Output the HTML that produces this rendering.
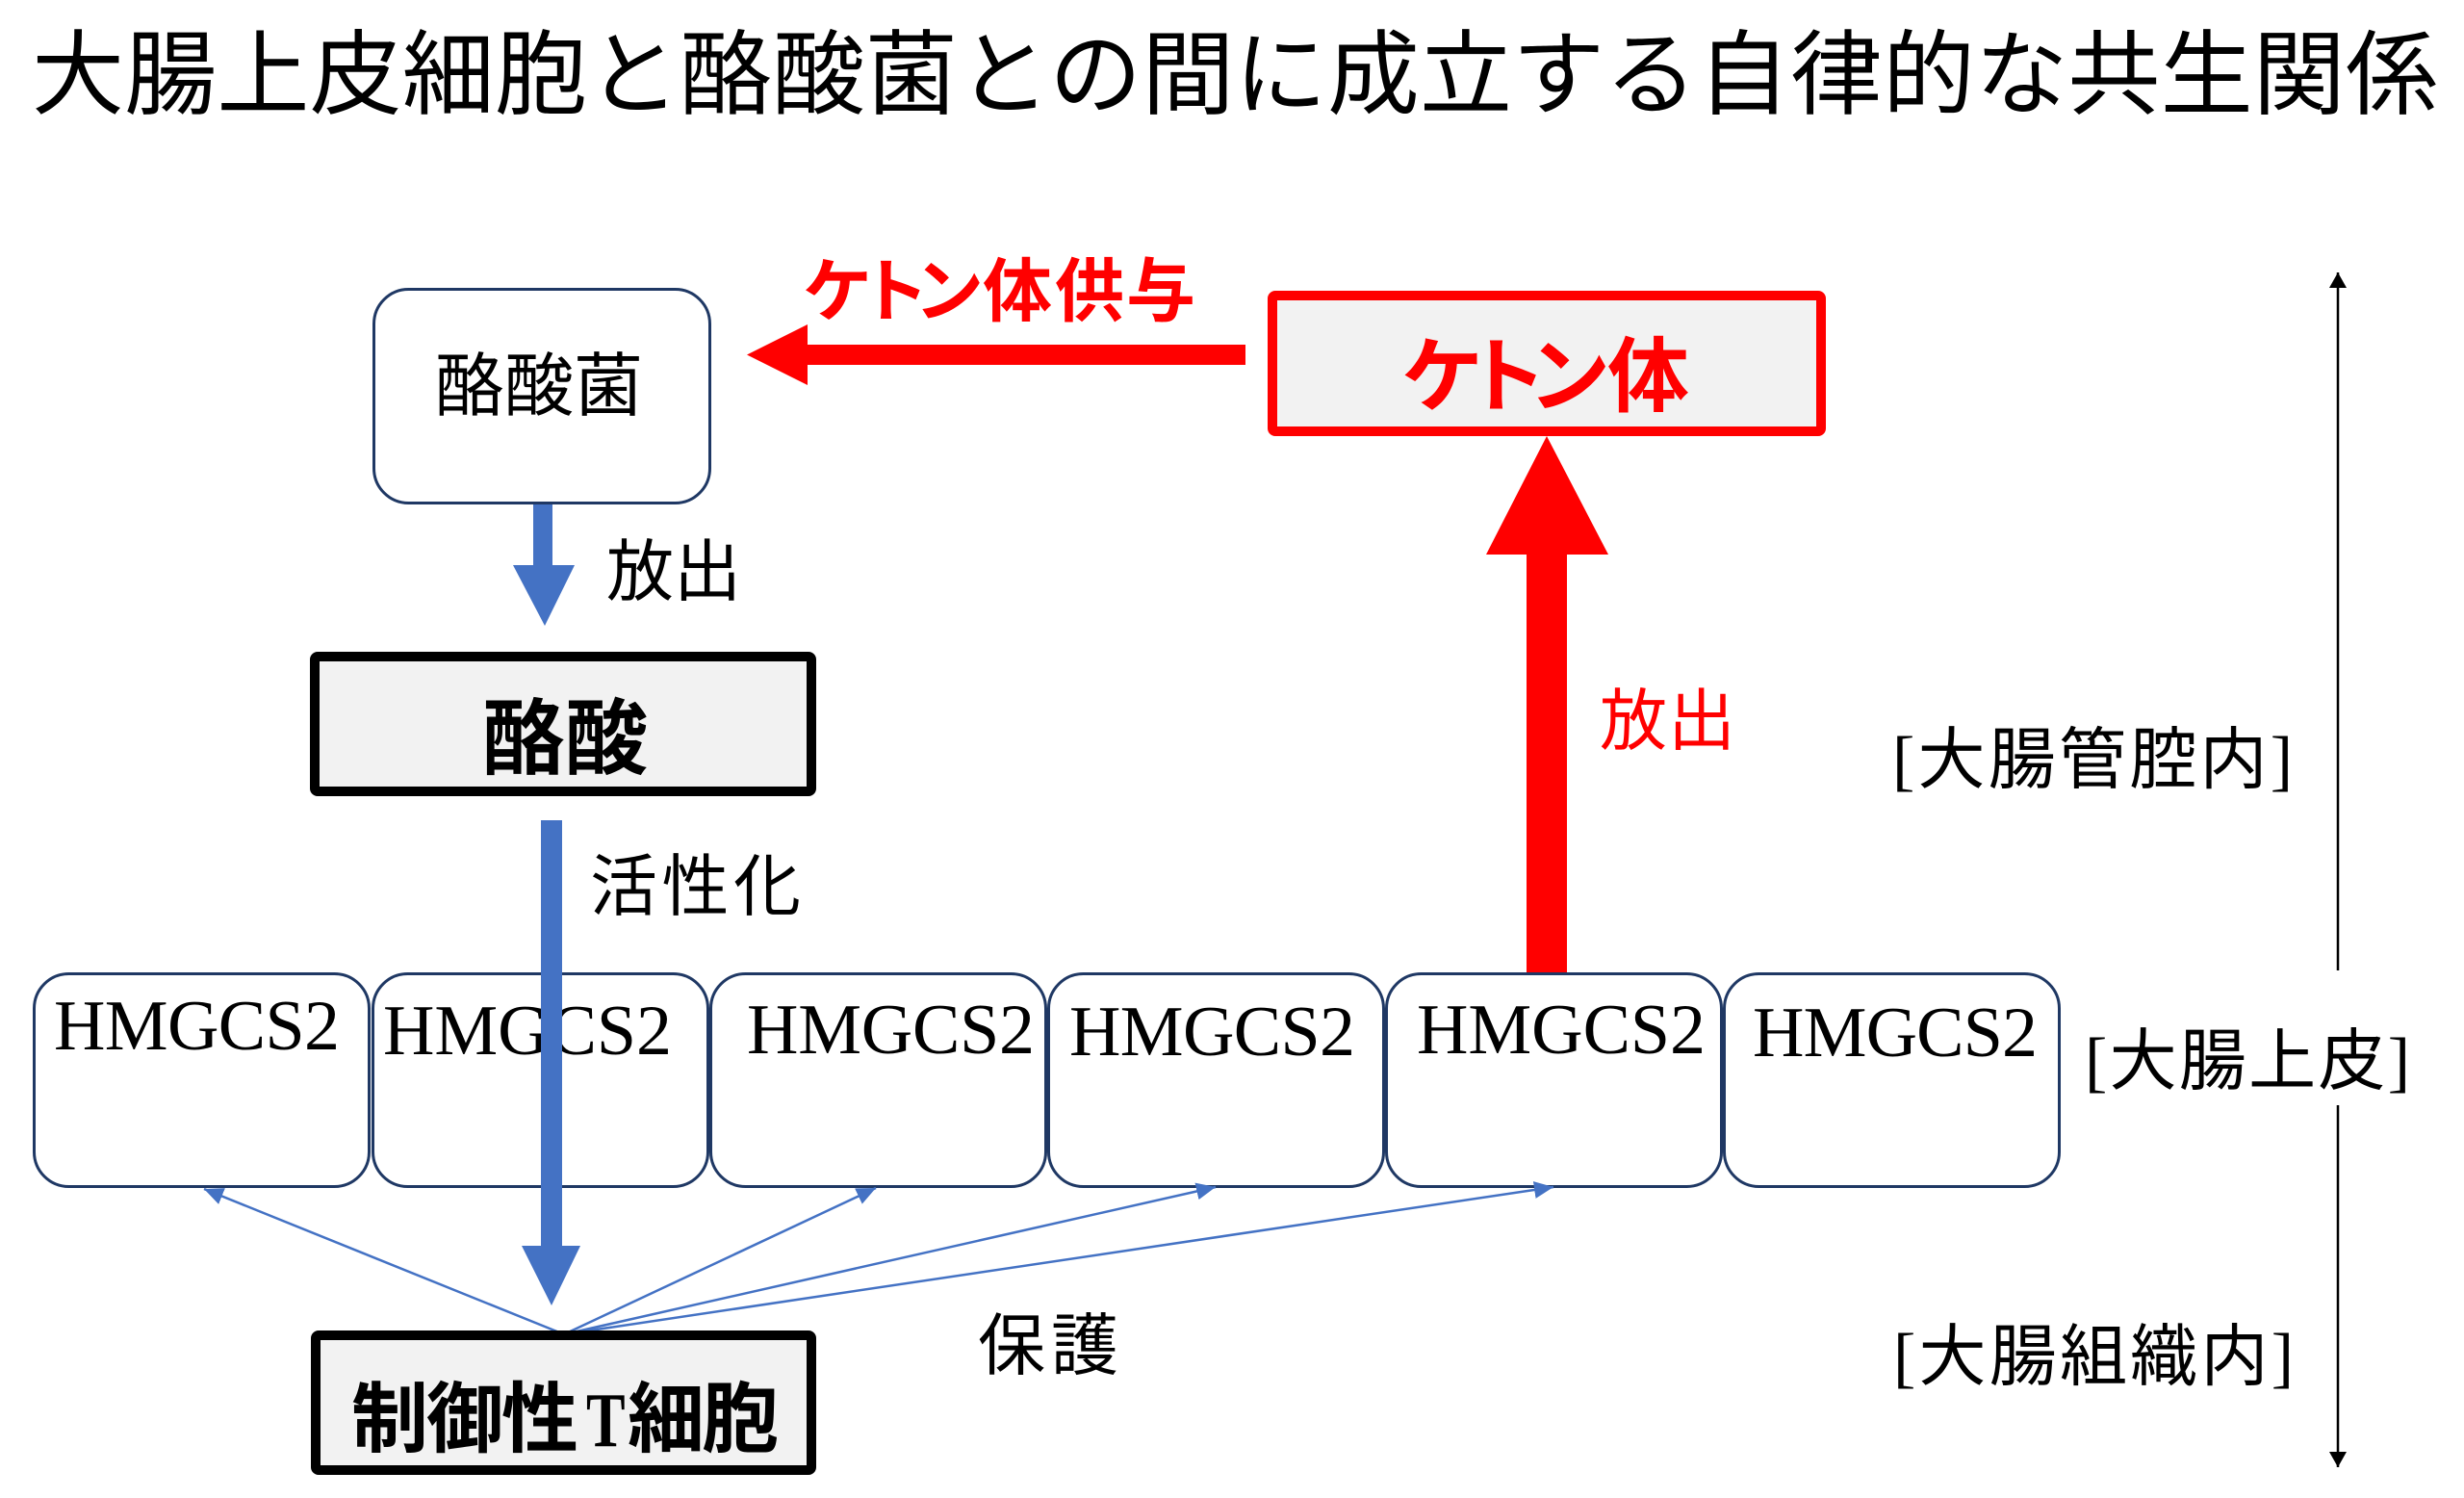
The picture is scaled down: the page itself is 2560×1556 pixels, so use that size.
<!DOCTYPE html>
<html>
<head>
<meta charset="utf-8">
<style>
html,body{margin:0;padding:0;background:#fff;}
body{width:2560px;height:1556px;overflow:hidden;position:relative;}
svg{position:absolute;left:0;top:0;}
.jp{font-family:"Liberation Sans","Noto Sans CJK JP",sans-serif;}
.sj{font-family:"Liberation Serif","Noto Sans CJK JP",serif;}
</style>
</head>
<body>
<svg width="2560" height="1556" viewBox="0 0 2560 1556" xmlns="http://www.w3.org/2000/svg">
  <defs>
    <marker id="bh" markerUnits="userSpaceOnUse" markerWidth="20" markerHeight="20" viewBox="0 0 20 20" refX="20" refY="10" orient="auto">
      <path d="M0,1 L20,10 L0,19 z" fill="#4472c4"/>
    </marker>
    <marker id="kh" markerUnits="userSpaceOnUse" markerWidth="18" markerHeight="18" viewBox="0 0 18 18" refX="16" refY="9" orient="auto">
      <path d="M0,0 L16,9 L0,18 z" fill="#000"/>
    </marker>
  </defs>

  <!-- Title -->
  <text class="jp" x="33" y="111" font-size="96" textLength="2500" lengthAdjust="spacing" fill="#000">大腸上皮細胞と酪酸菌との間に成立する自律的な共生関係</text>

  <!-- 酪酸菌 box -->
  <rect x="388.5" y="300.5" width="349" height="222" rx="36" ry="36" fill="#fff" stroke="#1f3864" stroke-width="3"/>
  <text class="jp" x="452" y="426" font-size="72" textLength="216" lengthAdjust="spacing" fill="#000">酪酸菌</text>

  <!-- red left arrow (ketone supply) -->
  <polygon points="1294,358 839,358 839,337 776,368.5 839,400 839,379 1294,379" fill="#ff0000"/>
  <text class="jp" y="328" font-size="72" font-weight="bold" fill="#ff0000" x="834 893 950 1021 1096 1170">ケトン体供与</text>

  <!-- ketone box -->
  <rect x="1322" y="307" width="570" height="141" rx="3" ry="3" fill="#f2f2f2" stroke="#ff0000" stroke-width="10"/>
  <text class="jp" y="421" font-size="85" font-weight="bold" fill="#ff0000" x="1456 1522 1588 1670">ケトン体</text>

  <!-- blue arrow 1 -->
  <polygon points="554,524 574,524 574,587 597,587 566,650 533,587 554,587" fill="#4472c4"/>
  <text class="jp" x="630" y="618" font-size="70" textLength="140" lengthAdjust="spacing" fill="#000">放出</text>

  <!-- 酪酸 box -->
  <rect x="327" y="682" width="516" height="140" rx="3" ry="3" fill="#f2f2f2" stroke="#000" stroke-width="10"/>
  <text class="jp" x="501" y="797" font-size="86" font-weight="bold" textLength="172" lengthAdjust="spacing" fill="#000">酪酸</text>

  <text class="jp" x="613" y="945" font-size="70" textLength="219" lengthAdjust="spacing" fill="#000">活性化</text>

  <!-- HMGCS2 boxes -->
  <g fill="#fff" stroke="#1f3864" stroke-width="3">
    <rect x="35.5" y="1011.5" width="348" height="221" rx="36" ry="36"/>
    <rect x="387.5" y="1011.5" width="348" height="221" rx="36" ry="36"/>
    <rect x="738.5" y="1011.5" width="348" height="221" rx="36" ry="36"/>
    <rect x="1089.5" y="1011.5" width="348" height="221" rx="36" ry="36"/>
    <rect x="1440.5" y="1011.5" width="348" height="221" rx="36" ry="36"/>
    <rect x="1791.5" y="1011.5" width="348" height="221" rx="36" ry="36"/>
  </g>
  <g class="sj" font-size="74" fill="#000">
    <text x="56" y="1090" textLength="297" lengthAdjust="spacing">HMGCS2</text>
    <text x="398" y="1095" textLength="300" lengthAdjust="spacing">HMGCS2</text>
    <text x="776" y="1094" textLength="299" lengthAdjust="spacing">HMGCS2</text>
    <text x="1111" y="1096" textLength="297" lengthAdjust="spacing">HMGCS2</text>
    <text x="1472" y="1094" textLength="300" lengthAdjust="spacing">HMGCS2</text>
    <text x="1821" y="1097" textLength="296" lengthAdjust="spacing">HMGCS2</text>
  </g>

  <!-- big red up arrow -->
  <polygon points="1586,1010 1586,576 1544,576 1607,453 1671,576 1628,576 1628,1010" fill="#ff0000"/>
  <text class="jp" x="1662" y="773" font-size="70" textLength="141" lengthAdjust="spacing" fill="#ff0000">放出</text>

  <!-- blue arrow 2 -->
  <polygon points="562,852 584,852 584,1294 603,1294 573,1356 542,1294 562,1294" fill="#4472c4"/>

  <!-- thin protective lines -->
  <g stroke="#4472c4" stroke-width="2.5" fill="none">
    <line x1="586" y1="1386" x2="212" y2="1235" marker-end="url(#bh)"/>
    <line x1="586" y1="1386" x2="910" y2="1234" marker-end="url(#bh)"/>
    <line x1="586" y1="1386" x2="1263" y2="1233" marker-end="url(#bh)"/>
    <line x1="586" y1="1386" x2="1614" y2="1233" marker-end="url(#bh)"/>
  </g>
  <text class="jp" x="1016" y="1422" font-size="70" textLength="146" lengthAdjust="spacing" fill="#000">保護</text>

  <!-- 制御性T細胞 box -->
  <rect x="328" y="1387" width="515" height="140" rx="3" ry="3" fill="#f2f2f2" stroke="#000" stroke-width="10"/>
  <text class="jp" y="1502" font-size="80" font-weight="bold" fill="#000"><tspan x="365">制</tspan><tspan x="443">御</tspan><tspan x="521">性</tspan><tspan x="652">細</tspan><tspan x="729">胞</tspan></text>
  <text transform="translate(609,1502) scale(0.76,1)" font-family="Liberation Serif, serif" font-size="80" font-weight="bold" fill="#000">T</text>

  <!-- right side labels -->
  <text class="sj" x="1966" y="813" font-size="70" textLength="416" lengthAdjust="spacing" fill="#000">[大腸管腔内]</text>
  <text class="sj" x="2166" y="1126" font-size="70" textLength="338" lengthAdjust="spacing" fill="#000">[大腸上皮]</text>
  <text class="sj" x="1967" y="1433" font-size="70" textLength="416" lengthAdjust="spacing" fill="#000">[大腸組織内]</text>

  <!-- vertical double arrow -->
  <g stroke="#000" stroke-width="2.5">
    <line x1="2429" y1="1008" x2="2429" y2="283" marker-end="url(#kh)"/>
    <line x1="2429" y1="1148" x2="2429" y2="1524" marker-end="url(#kh)"/>
  </g>
</svg>
</body>
</html>
